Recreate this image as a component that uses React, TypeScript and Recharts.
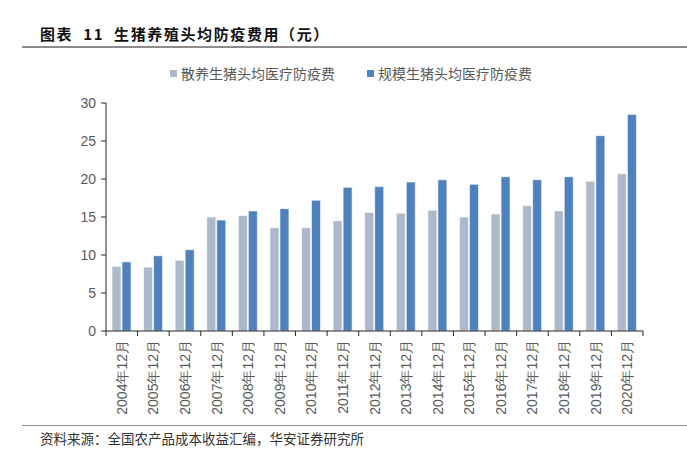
import React from 'react';
import { BarChart, Bar, XAxis, YAxis } from 'recharts';

const categories = ['2004年12月', '2005年12月', '2006年12月', '2007年12月', '2008年12月', '2009年12月', '2010年12月', '2011年12月', '2012年12月', '2013年12月', '2014年12月', '2015年12月', '2016年12月', '2017年12月', '2018年12月', '2019年12月', '2020年12月'];
const freeRangeCost = [8.5, 8.4, 9.3, 15.0, 15.2, 13.6, 13.6, 14.5, 15.6, 15.5, 15.9, 15.0, 15.4, 16.5, 15.8, 19.7, 20.7];
const scaleCost = [9.1, 9.9, 10.7, 14.6, 15.8, 16.1, 17.2, 18.9, 19.0, 19.6, 19.9, 19.3, 20.3, 19.9, 20.3, 25.7, 28.5];
const yTicks = [0, 5, 10, 15, 20, 25, 30];
const seriesNames = ['散养生猪头均医疗防疫费', '规模生猪头均医疗防疫费'];
const titleText = '图表 11 生猪养殖头均防疫费用（元）';
const sourceText = '资料来源：全国农产品成本收益汇编，华安证券研究所';

const data = categories.map((c, i) => ({ name: c, a: freeRangeCost[i], b: scaleCost[i] }));

const W = 687;
const H = 449;
const M = { top: 103, right: 44, bottom: 18, left: 66 };
const Y_W = 40;
const X_H = 100;
const PLOT_W = W - M.left - M.right - Y_W;
const HALF = PLOT_W / categories.length / 2;
const AXIS = '#262626';
const TXT = '#595959';
const GREY = '#ADB9CA';
const BLUE = '#4F81BD';
const NUM_FONT = '"Liberation Sans", Arial, sans-serif';
const CJK_FONT = '"Noto Sans CJK SC", "Liberation Sans", sans-serif';

const XTick = (props: any) => {
  const { x, y, payload } = props;
  const idx = payload?.index ?? props.index ?? 0;
  const last = idx === categories.length - 1;
  return (
    <g>
      <line x1={x - HALF} x2={x - HALF} y1={y} y2={y + 5} stroke={AXIS} strokeWidth={1} />
      {last && <line x1={x + HALF} x2={x + HALF} y1={y} y2={y + 5} stroke={AXIS} strokeWidth={1} />}
      <text
        x={x}
        y={y + 9}
        transform={`rotate(-90, ${x}, ${y + 9})`}
        textAnchor="end"
        dominantBaseline="central"
        fill={TXT}
        fontSize={14}
        fontFamily={NUM_FONT}
      >
        {payload.value}
      </text>
    </g>
  );
};

export default function App() {
  return (
    <div style={{ position: 'absolute', left: 0, top: 0, width: W, height: H, background: '#fff', overflow: 'hidden' }}>
      <div style={{ position: 'absolute', left: 40, top: 24, fontSize: 15, fontWeight: 600, fontFamily: CJK_FONT, color: '#111', whiteSpace: 'pre', lineHeight: '20px', letterSpacing: 1.6, wordSpacing: 5 }}>
        {titleText}
      </div>
      <div style={{ position: 'absolute', left: 22, top: 46, width: W - 22, height: 2, background: '#8c8c8c' }} />
      <div style={{ position: 'absolute', left: 170, top: 63, display: 'flex', alignItems: 'center', fontFamily: CJK_FONT, fontSize: 14, color: TXT, whiteSpace: 'nowrap', lineHeight: '20px' }}>
        <span style={{ display: 'inline-block', width: 7, height: 7, background: GREY, marginRight: 4 }} />
        <span>{seriesNames[0]}</span>
        <span style={{ display: 'inline-block', width: 7, height: 7, background: BLUE, marginLeft: 32, marginRight: 4 }} />
        <span>{seriesNames[1]}</span>
      </div>
      <div style={{ position: 'absolute', left: 0, top: 0 }}>
        <BarChart width={W} height={H} data={data} margin={M} barGap={1} barCategoryGap="19%">
          <XAxis
            dataKey="name"
            interval={0}
            height={X_H}
            tickLine={false}
            tickSize={0}
            tickMargin={0}
            axisLine={{ stroke: AXIS, strokeWidth: 1 }}
            tick={<XTick />}
          />
          <YAxis
            width={Y_W}
            domain={[0, 30]}
            ticks={yTicks}
            interval={0}
            tickSize={5}
            tickMargin={5}
            axisLine={{ stroke: AXIS, strokeWidth: 1 }}
            tickLine={{ stroke: AXIS, strokeWidth: 1 }}
            tick={{ fill: TXT, fontSize: 14, fontFamily: NUM_FONT }}
          />
          <Bar dataKey="a" name={seriesNames[0]} fill={GREY} stroke="#ffffff" strokeWidth={0.6} isAnimationActive={false} />
          <Bar dataKey="b" name={seriesNames[1]} fill={BLUE} stroke="#ffffff" strokeWidth={0.6} isAnimationActive={false} />
        </BarChart>
      </div>
      <div style={{ position: 'absolute', left: 22, top: 425, width: W - 22, height: 1, background: '#8c8c8c' }} />
      <div style={{ position: 'absolute', left: 40, top: 428, fontFamily: CJK_FONT, fontSize: 13.5, color: '#333', whiteSpace: 'nowrap', lineHeight: '20px' }}>
        {sourceText}
      </div>
    </div>
  );
}
